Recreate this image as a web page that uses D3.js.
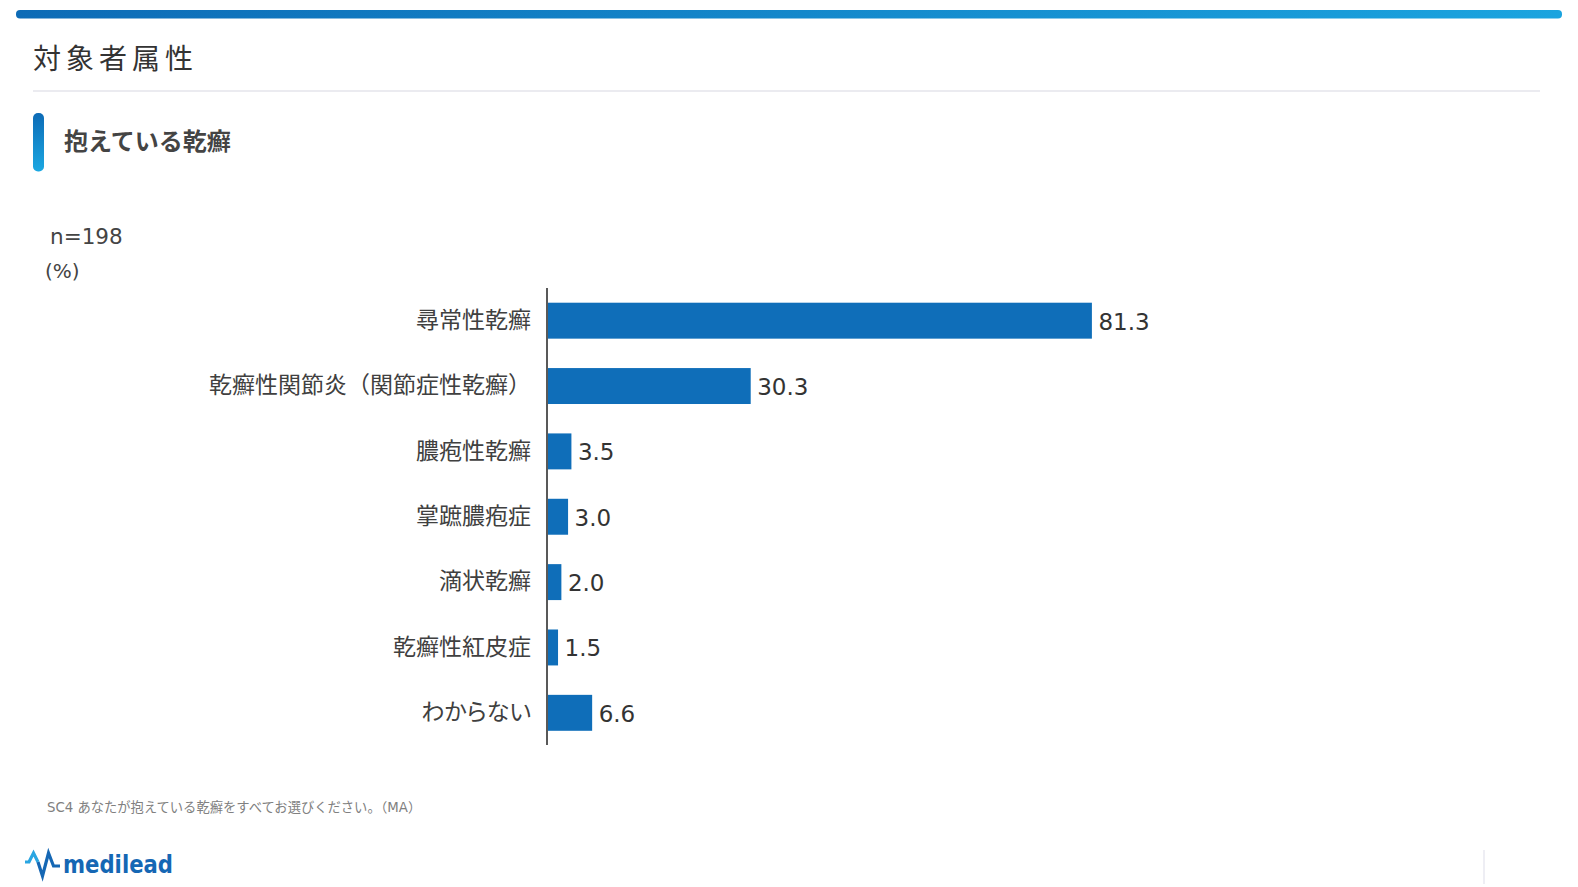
<html>
<head>
<meta charset="utf-8">
<script src="https://d3js.org/d3.v7.min.js"></script>
<style>
  html, body { margin: 0; padding: 0; background: #fff; overflow: hidden; }
  svg { display: block; }
  text { font-family: "DejaVu Sans", "Noto Sans CJK JP", sans-serif; }
</style>
</head>
<body>
<svg id="chart" width="1578" height="887"></svg>
<script>
  // Data
  const categories = ["尋常性乾癬", "乾癬性関節炎（関節症性乾癬）", "膿疱性乾癬", "掌蹠膿疱症", "滴状乾癬", "乾癬性紅皮症", "わからない"];
  const values = [81.3, 30.3, 3.5, 3.0, 2.0, 1.5, 6.6];
  const pageTitle = "対象者属性";
  const chartTitle = "抱えている乾癬";
  const sampleLabel = "n=198";
  const unitLabel = "(%)";
  const footnote = "SC4  あなたが抱えている乾癬をすべてお選びください。（MA）";

  const svg = d3.select("#chart");
  const defs = svg.append("defs");

  // gradients
  const gH = defs.append("linearGradient").attr("id", "gH").attr("x1", 0).attr("x2", 1).attr("y1", 0).attr("y2", 0);
  gH.append("stop").attr("offset", "0%").attr("stop-color", "#0d6bb6");
  gH.append("stop").attr("offset", "100%").attr("stop-color", "#1ba4df");
  const gV = defs.append("linearGradient").attr("id", "gV").attr("x1", 0).attr("x2", 0).attr("y1", 0).attr("y2", 1);
  gV.append("stop").attr("offset", "0%").attr("stop-color", "#0d6bb6");
  gV.append("stop").attr("offset", "100%").attr("stop-color", "#1ba8e2");

  // Header
  svg.append("rect").attr("x", 16).attr("y", 10).attr("width", 1546).attr("height", 8.5)
    .attr("rx", 4).attr("fill", "url(#gH)");
  svg.append("text").attr("x", 33).attr("y", 59).attr("dominant-baseline", "central")
    .attr("font-size", 28).attr("letter-spacing", 5).attr("fill", "#333").text(pageTitle);
  svg.append("rect").attr("x", 33).attr("y", 90).attr("width", 1507).attr("height", 2).attr("fill", "#ebebf0");

  svg.append("rect").attr("x", 33).attr("y", 113).attr("width", 11).attr("height", 58.5)
    .attr("rx", 5).attr("fill", "url(#gV)");
  svg.append("text").attr("x", 64).attr("y", 142).attr("dominant-baseline", "central")
    .attr("font-size", 24).attr("font-weight", "bold").attr("fill", "#444").text(chartTitle);

  svg.append("text").attr("x", 50).attr("y", 236.5).attr("dominant-baseline", "central")
    .attr("font-size", 21.5).attr("fill", "#444").text(sampleLabel);
  svg.append("text").attr("x", 45).attr("y", 271).attr("dominant-baseline", "central")
    .attr("font-size", 20).attr("fill", "#444").text(unitLabel);

  // Scales
  const x0 = 548;
  const x = d3.scaleLinear().domain([0, 100]).range([x0, x0 + 669]);
  const y = d3.scaleBand().domain(categories).range([288, 745.5])
    .paddingInner(0.45).paddingOuter(0.225);

  // Bars
  svg.append("g").selectAll("rect")
    .data(values).enter()
    .append("rect")
    .attr("x", x(0))
    .attr("y", (d, i) => y(categories[i]))
    .attr("width", d => x(d) - x(0))
    .attr("height", y.bandwidth())
    .attr("fill", "#0f6eb9");

  // Value labels
  svg.append("g").selectAll("text")
    .data(values).enter()
    .append("text")
    .attr("x", d => x(d) + 6.5)
    .attr("y", (d, i) => y(categories[i]) + y.bandwidth() / 2 + 1)
    .attr("dominant-baseline", "central")
    .attr("font-size", 23)
    .attr("fill", "#333")
    .text(d => d.toFixed(1));

  // Category axis
  const axis = svg.append("g")
    .attr("transform", "translate(547,0)")
    .call(d3.axisLeft(y).tickSize(0).tickPadding(16));
  axis.select(".domain").attr("d", "M0,288V745").attr("stroke", "#222").attr("stroke-width", 1.5);
  axis.selectAll(".tick text")
    .attr("font-size", 23).attr("fill", "#404040")
    .attr("font-family", "\"Noto Sans CJK JP\", sans-serif")
    // kana-only labels use proportional widths, like the original
    .style("font-feature-settings", d => /^[\u3040-\u309f]+$/.test(d) ? "'palt'" : null);

  // Footnote
  svg.append("text").attr("x", 47).attr("y", 807).attr("dominant-baseline", "central")
    .attr("font-size", 13.3).attr("fill", "#808080").text(footnote);

  // Logo
  svg.append("polyline").attr("points", "25,862 29,862 33.5,853 38,862")
    .attr("fill", "none").attr("stroke", "#2aa6e2").attr("stroke-width", 3.2).attr("stroke-linejoin", "miter");
  svg.append("polyline").attr("points", "38,862 42.5,876 48.5,853 53.5,866 60,866")
    .attr("fill", "none").attr("stroke", "#1567b4").attr("stroke-width", 3.2).attr("stroke-linejoin", "miter");
  svg.append("text").attr("x", 63).attr("y", 873)
    .attr("font-family", "Lato, sans-serif").attr("font-weight", "bold")
    .attr("font-size", 24).attr("textLength", 110).attr("lengthAdjust", "spacingAndGlyphs")
    .attr("fill", "#1567b4").text("medilead");

  svg.append("rect").attr("x", 1483).attr("y", 850).attr("width", 2).attr("height", 34).attr("fill", "#eeeef4");
</script>
</body>
</html>
